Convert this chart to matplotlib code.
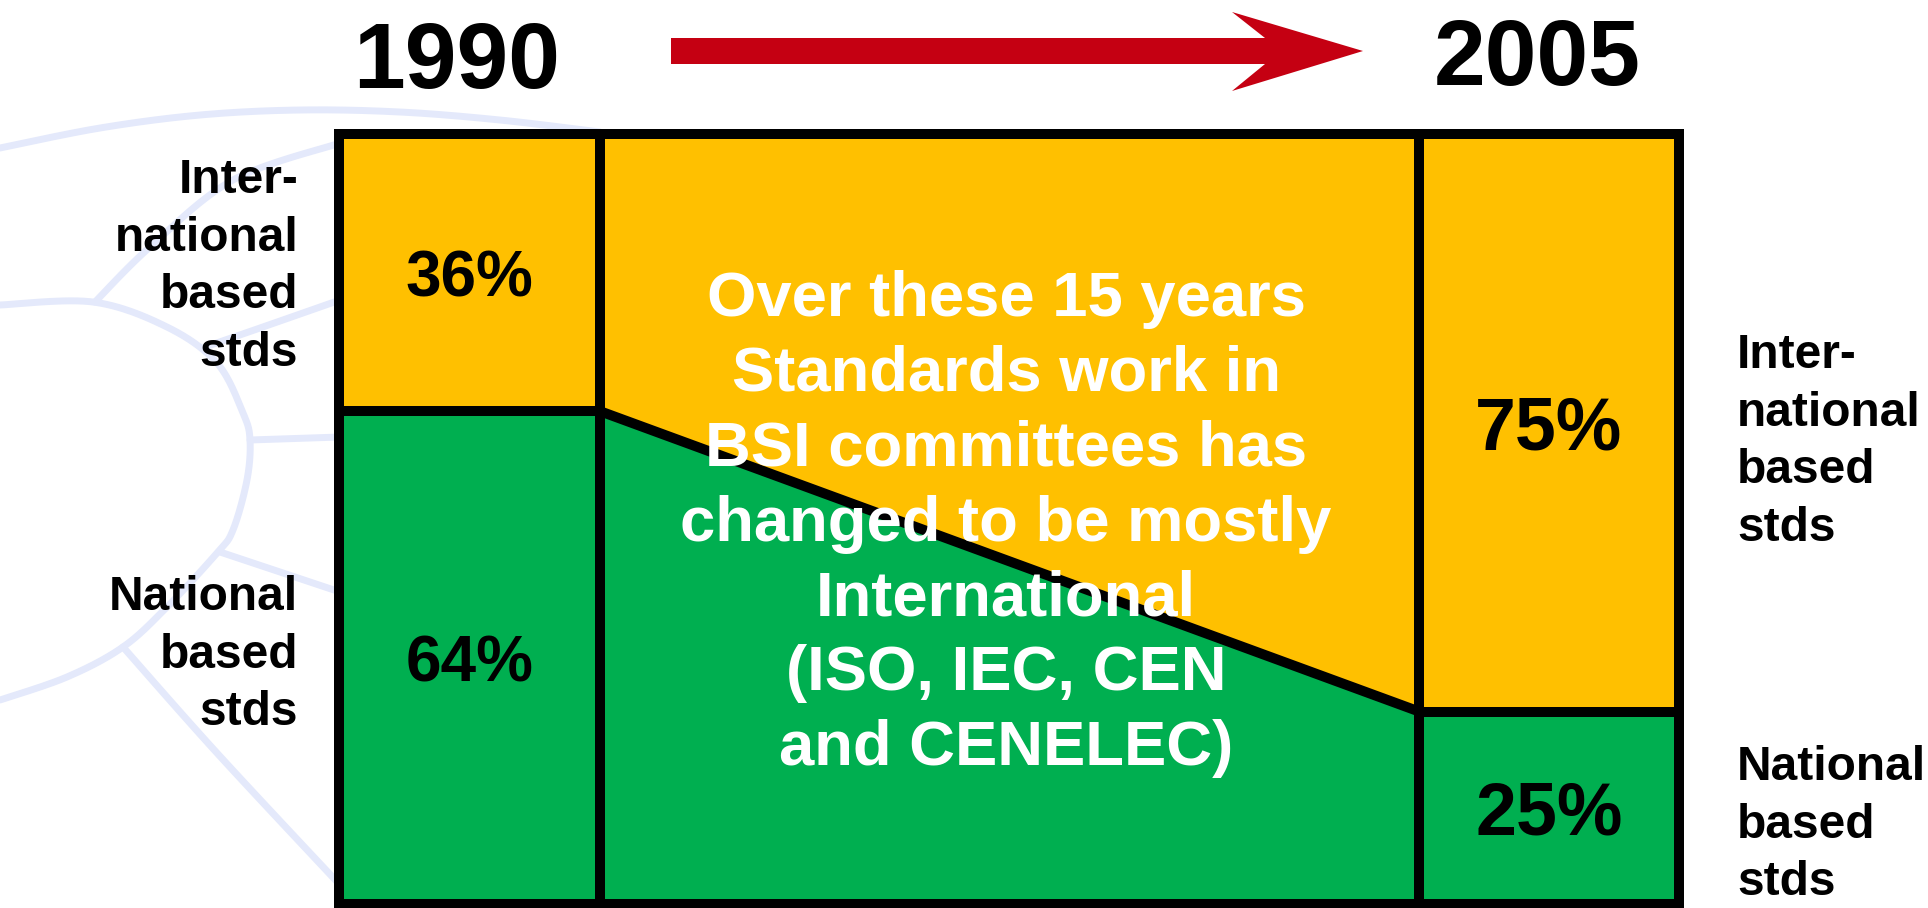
import numpy as np
import matplotlib
matplotlib.use("Agg")
import matplotlib.pyplot as plt
from matplotlib.patches import Polygon, Rectangle

# ---- data ----
years = ["1990", "2005"]
international_pct = [36, 75]
national_pct = [64, 25]
label_intl = "Inter-\nnational\nbased\nstds"
label_nat = "National\nbased\nstds"
middle_text = ("Over these 15 years\nStandards work in\nBSI committees has\n"
               "changed to be mostly\nInternational\n(ISO, IEC, CEN\nand CENELEC)")

# ---- style ----
YELLOW = "#FFC000"
GREEN = "#00AF50"
RED = "#C50012"
WATER = "#E4E9FB"
FONT = ["Liberation Sans", "DejaVu Sans"]
LW = 7.2

plt.rcParams["font.family"] = FONT
W, H = 1928, 908
fig = plt.figure(figsize=(W / 100, H / 100), dpi=100)
fig.patch.set_facecolor("white")

# background axes in pixel coordinates (decoration, headings)
bg = fig.add_axes([0, 0, 1, 1])
bg.set_xlim(0, W)
bg.set_ylim(H, 0)
bg.axis("off")

def smooth(pts, n=30):
    pts = np.asarray(pts, float)
    if len(pts) < 3:
        return pts
    p = np.vstack([pts[0], pts, pts[-1]])
    out = []
    for i in range(1, len(p) - 2):
        p0, p1, p2, p3 = p[i - 1], p[i], p[i + 1], p[i + 2]
        t = np.linspace(0, 1, n)[:, None]
        seg = 0.5 * ((2 * p1) + (-p0 + p2) * t + (2 * p0 - 5 * p1 + 4 * p2 - p3) * t ** 2
                     + (-p0 + 3 * p1 - 3 * p2 + p3) * t ** 3)
        out.append(seg)
    return np.vstack(out)

watermark = [
    [(0, 148), (100, 128), (200, 115), (300, 110), (400, 112), (500, 120), (600, 132)],
    [(95, 302), (150, 247), (233, 180), (340, 143)],
    [(0, 305), (93, 302), (167, 327), (217, 363), (243, 413), (250, 440), (247, 480),
     (233, 530), (217, 553), (167, 607), (123, 647), (67, 677), (0, 700)],
    [(205, 347), (260, 328), (340, 300)],
    [(250, 440), (340, 437)],
    [(220, 552), (340, 592)],
    [(123, 647), (217, 753), (340, 885)],
]
for c in watermark:
    s = smooth(c)
    bg.plot(s[:, 0], s[:, 1], color=WATER, lw=5, solid_capstyle="round", zorder=0)

# red arrow
arrow = Polygon([(671, 38), (1265, 38), (1232, 12), (1363, 51), (1232, 91),
                 (1265, 64), (671, 64)], closed=True, facecolor=RED, edgecolor="none")
bg.add_patch(arrow)

# year headings
bg.text(457, 64, years[0], ha="center", va="center", fontsize=67, fontweight="bold")
bg.text(1537, 61, years[1], ha="center", va="center", fontsize=67, fontweight="bold")

# side labels
for x, y, txt, ha in [(298, 267, label_intl, "right"), (298, 655, label_nat, "right"),
                      (1737, 442, label_intl, "left"), (1737, 825, label_nat, "left")]:
    bg.text(x, y, txt, ha=ha, va="center", fontsize=34.5, fontweight="bold",
            linespacing=1.37)

# main chart axes
x0, x1 = 339, 1679
ytop, ybot = 134, 904
ax = fig.add_axes([x0 / W, (H - ybot) / H, (x1 - x0) / W, (ybot - ytop) / H])
ax.set_xlim(0, x1 - x0)
ax.set_ylim(0, 100)
ax.axis("off")
ax.patch.set_alpha(0)

left = (0, 261)
mid = (261, 1080)
right = (1080, 1340)

cols = [left, right]
for (a, b), intl, nat in zip(cols, international_pct, national_pct):
    ax.bar((a + b) / 2, nat, width=b - a, bottom=0, color=GREEN, edgecolor="black",
           linewidth=LW, joinstyle="miter", clip_on=False, zorder=2)
    ax.bar((a + b) / 2, intl, width=b - a, bottom=nat, color=YELLOW, edgecolor="black",
           linewidth=LW, joinstyle="miter", clip_on=False, zorder=2)

# transition area
mx = [mid[0], mid[1]]
ax.fill_between(mx, 0, national_pct, color=GREEN, lw=0, zorder=1)
ax.fill_between(mx, national_pct, 100, color=YELLOW, lw=0, zorder=1)
ax.plot(mx, national_pct, color="black", lw=LW, solid_capstyle="butt", zorder=3, clip_on=False)
ax.add_patch(Rectangle((mid[0], 0), mid[1] - mid[0], 100, fill=False, edgecolor="black",
                       lw=LW, joinstyle="miter", clip_on=False, zorder=3))

# percent labels
sizes = [46, 53]
for (a, b), intl, nat, fs in zip(cols, international_pct, national_pct, sizes):
    cx = (a + b) / 2
    ax.text(cx, nat / 2, f"{nat}%", ha="center", va="center_baseline", fontsize=fs,
            fontweight="bold", zorder=4)
    ax.text(cx, nat + intl / 2, f"{intl}%", ha="center", va="center_baseline", fontsize=fs,
            fontweight="bold", zorder=4)

# middle white text
mid_x, mid_y = 1006, 524
fig.text(mid_x / W, 1 - mid_y / H, middle_text, ha="center", va="center",
         fontsize=45.6, fontweight="bold", color="white", linespacing=1.345, zorder=10)

fig.savefig("out.png", dpi=100)
